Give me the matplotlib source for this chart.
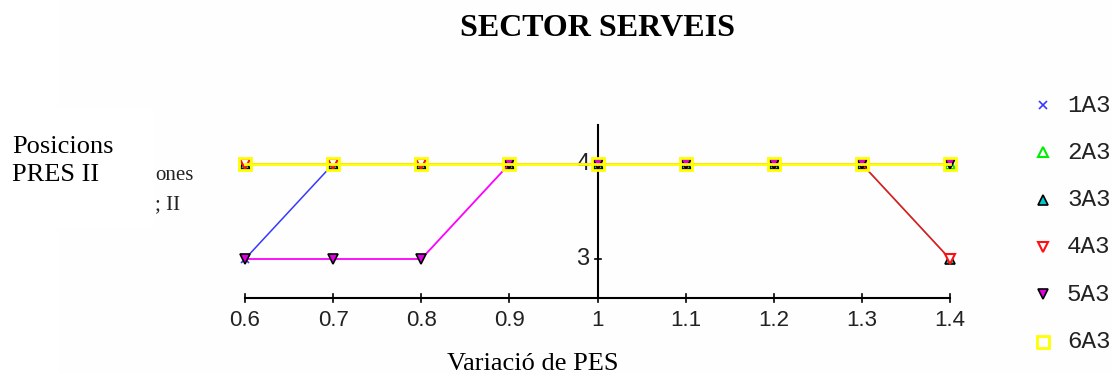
import matplotlib.pyplot as plt
from matplotlib.patches import Rectangle

# variation of weight and resulting position for each option
pes = [0.6, 0.7, 0.8, 0.9, 1.0, 1.1, 1.2, 1.3, 1.4]
pes_labels = ['0.6', '0.7', '0.8', '0.9', '1', '1.1', '1.2', '1.3', '1.4']
pos_ticks = [3, 4]

series_names = ['1A3', '2A3', '3A3', '4A3', '5A3', '6A3']
s1a3 = [3, 4, 4, 4, 4, 4, 4, 4, 4]
s2a3 = [4, 4, 4, 4, 4, 4, 4, 4, 4]
s3a3 = [4, 4, 4, 4, 4, 4, 4, 4, 3]
s4a3 = [4, 4, 4, 4, 4, 4, 4, 4, 3]
s5a3 = [3, 3, 3, 4, 4, 4, 4, 4, 4]
s6a3 = [4, 4, 4, 4, 4, 4, 4, 4, 4]
all_series = [s1a3, s2a3, s3a3, s4a3, s5a3, s6a3]

line_colors = ['#3838ff', '#00ee00', '#00bcbc', '#ff1010', '#ff00ff', '#ffff00']
line_widths = [1.1, 1.1, 1.1, 1.1, 1.3, 2.0]
styles = [
    dict(marker='x', ms=6, mew=1.2, mec='#3838ff', mfc='#3838ff'),
    dict(marker='^', ms=7, mew=1.5, mec='#00ee00', mfc='white'),
    dict(marker='^', ms=7, mew=1.2, mec='black', mfc='#00c8c8'),
    dict(marker='v', ms=7, mew=1.5, mec='#ff1010', mfc='white'),
    dict(marker='v', ms=7, mew=1.2, mec='black', mfc='#e000e0'),
    dict(marker='s', ms=9, mew=2.0, mec='#ffff00', mfc='none'),
]

W, H = 1112, 374
fig = plt.figure(figsize=(W / 100, H / 100), dpi=100)

# pixel-space overlay for background, titles and legend
pax = fig.add_axes([0, 0, 1, 1])
pax.set_xlim(0, W)
pax.set_ylim(H, 0)
pax.axis('off')
pax.add_patch(Rectangle((58, 0), W - 58, H, color='#fefefe', lw=0, zorder=0))

# data axes: 0.6 -> 245px, 1.4 -> 950px, 4 -> 164px, 3 -> 259px
ax = fig.add_axes([0, 0, 1, 1])
ax.patch.set_alpha(0)
xs = 705 / 0.8
ax.set_xlim(0.6 - 245 / xs, 1.4 + (W - 950) / xs)
ax.set_ylim(3 - (H - 259) / 95, 4 + 164 / 95)
ax.axis('off')

y_axis = 3 - (298 - 259) / 95
y_top = 4 + (164 - 125) / 95
ax.plot([pes[0], pes[-1]], [y_axis, y_axis], color='black', lw=1.5, zorder=2)
ax.plot([1.0, 1.0], [y_axis, y_top], color='black', lw=1.5, zorder=2)
for x, lab in zip(pes, pes_labels):
    ax.plot([x, x], [y_axis - 4 / 95, y_axis + 4 / 95], color='black', lw=1.2, zorder=2)
    ax.text(x, y_axis - 12 / 95, lab, ha='center', va='top', fontsize=16,
            family='Liberation Sans', color='#222222')
for y in pos_ticks:
    ax.plot([1.0 - 3 / xs, 1.0 + 3 / xs], [y, y], color='black', lw=1.2, zorder=2)
    ax.text(1.0 - 8 / xs, y, str(y), ha='right', va='center', fontsize=17,
            family='Liberation Sans', color='#222222')

for i, vals in enumerate(all_series):
    ax.plot(pes, vals, color=line_colors[i], lw=line_widths[i], zorder=3 + i, **styles[i])

# legend on the right
for i, name in enumerate(series_names):
    ly = 105 + i * 47.3
    pax.plot([1043], [ly], linestyle='none', zorder=5, **styles[i])
    pax.text(1067, ly, name, ha='left', va='center', fontsize=17.5,
             family='Liberation Mono', color='#222222')

# leftover axis caption behind the label box
pax.text(155, 175, 'ones', ha='left', va='center', fontsize=15,
         family='Liberation Serif', color='#222222')
pax.text(155, 205, '; II', ha='left', va='center', fontsize=15,
         family='Liberation Serif', color='#222222')
pax.add_patch(Rectangle((0, 108), 153, 120, color='white', lw=0, zorder=4))

pax.text(597, 28, 'SECTOR SERVEIS', ha='center', va='center', fontsize=23,
         fontweight='bold', family='Liberation Serif', zorder=6)
pax.text(12, 147, 'Posicions', ha='left', va='center', fontsize=19,
         family='Liberation Serif', zorder=6)
pax.text(12, 175, 'PRES II', ha='left', va='center', fontsize=19,
         family='Liberation Serif', zorder=6)
pax.text(533, 364, 'Variació de PES', ha='center', va='center', fontsize=19,
         family='Liberation Serif', zorder=6)

fig.savefig('out.png', dpi=100)
